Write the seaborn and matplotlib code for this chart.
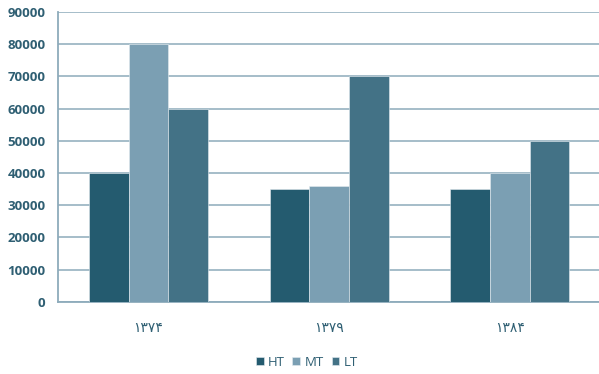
import matplotlib
matplotlib.use("Agg")
import matplotlib.pyplot as plt
import seaborn as sns
import pandas as pd
from matplotlib.ticker import FixedLocator

years = ["۱۳۷۴", "۱۳۷۹", "۱۳۸۴"]
series = ["HT", "MT", "LT"]
ht = [40000, 35000, 35000]
mt = [80000, 36000, 40000]
lt = [60000, 70000, 50000]
yticks = [0, 10000, 20000, 30000, 40000, 50000, 60000, 70000, 80000, 90000]

colors = ["#245b6f", "#7b9fb3", "#437286"]
text_c = "#2f5f73"
grid_c = "#8dabbb"

rows = []
for i, y in enumerate(years):
    for s, vals in zip(series, [ht, mt, lt]):
        rows.append({"year": y, "series": s, "value": vals[i]})
df = pd.DataFrame(rows)

sns.set_style("white")
plt.rcParams['font.family'] = ['Open Sans', 'DejaVu Sans']

fig = plt.figure(figsize=(5.99, 3.74), dpi=100)
ax = fig.add_axes([0.097, 0.193, 0.905, 0.775])

sns.barplot(data=df, x="year", y="value", hue="series", palette=colors,
            width=0.66, gap=0, edgecolor="#e4ecf1", linewidth=0.4,
            saturation=1, ax=ax, zorder=3)

ax.set_ylim(0, 90000)
ax.set_xlim(-0.5, 2.5)
ax.set_yticks(yticks)
ax.set_yticklabels([str(v) for v in yticks], color=text_c, fontsize=9.5,
                   fontweight="bold")
ax.yaxis.grid(True, color=grid_c, linewidth=1.1, zorder=0)
ax.set_axisbelow(True)
ax.tick_params(axis="y", length=4, width=1.1, color=grid_c, pad=5)
ax.tick_params(axis="x", which="major", length=0, pad=14, labelsize=10, labelcolor=text_c)
ax.xaxis.set_minor_locator(FixedLocator([0.5, 1.5]))
ax.tick_params(axis="x", which="minor", length=4, color=grid_c, width=1.1, direction="out")
ax.set_xlabel("")
ax.set_ylabel("")
for sp in ["top", "right"]:
    ax.spines[sp].set_visible(False)
for sp in ["left", "bottom"]:
    ax.spines[sp].set_color(grid_c)
    ax.spines[sp].set_linewidth(1.3)

handles, labels = ax.get_legend_handles_labels()
ax.legend(handles, labels, loc="center", bbox_to_anchor=(0.4585, -0.208),
          ncol=3, frameon=False, fontsize=9.5, handlelength=0.6, handleheight=0.6,
          columnspacing=0.6, handletextpad=0.3, labelcolor=text_c)

fig.savefig("out.png", dpi=100)
